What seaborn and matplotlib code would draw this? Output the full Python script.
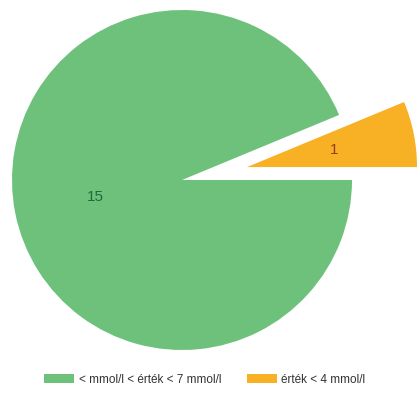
import matplotlib
matplotlib.use("Agg")
import matplotlib.pyplot as plt
import seaborn as sns

sns.set_theme(style="white")
plt.rcParams['font.family'] = ['Liberation Sans', 'DejaVu Sans']

categories = ["< mmol/l < érték < 7 mmol/l", "érték < 4 mmol/l"]
values = [15, 1]
colors = ["#6ec17b", "#f8b124"]
label_colors = ["#1d6b3b", "#9a3b1c"]

W, H = 417, 394
fig = plt.figure(figsize=(W / 100, H / 100), dpi=100)
ax = fig.add_axes([0, 0, 1, 1])
R = 170.0
cx, cy = 182.0, 180.0

wedges, texts, autotexts = ax.pie(
    values, colors=colors, startangle=22.5, counterclock=True,
    explode=[0, 0.39], radius=1.0, pctdistance=0.52,
    autopct=lambda p: f"{round(p * sum(values) / 100):d}",
    wedgeprops=dict(linewidth=0),
)
ax.set_xlim(-cx / R, (W - cx) / R)
ax.set_ylim(-(H - cy) / R, cy / R)
ax.set_aspect("equal")
ax.axis("off")

for t, c in zip(autotexts, label_colors):
    t.set_color(c)
    t.set_fontsize(11)

leg = ax.legend(wedges, categories, loc="center", bbox_to_anchor=(205 / W, 1 - 380 / H),
                bbox_transform=fig.transFigure, ncol=2, frameon=False,
                fontsize=8.5, handlelength=2.5, handleheight=0.8,
                columnspacing=2.2, handletextpad=0.4)
for txt in leg.get_texts():
    txt.set_color("#333333")

fig.savefig("out.png", dpi=100, facecolor="white")
